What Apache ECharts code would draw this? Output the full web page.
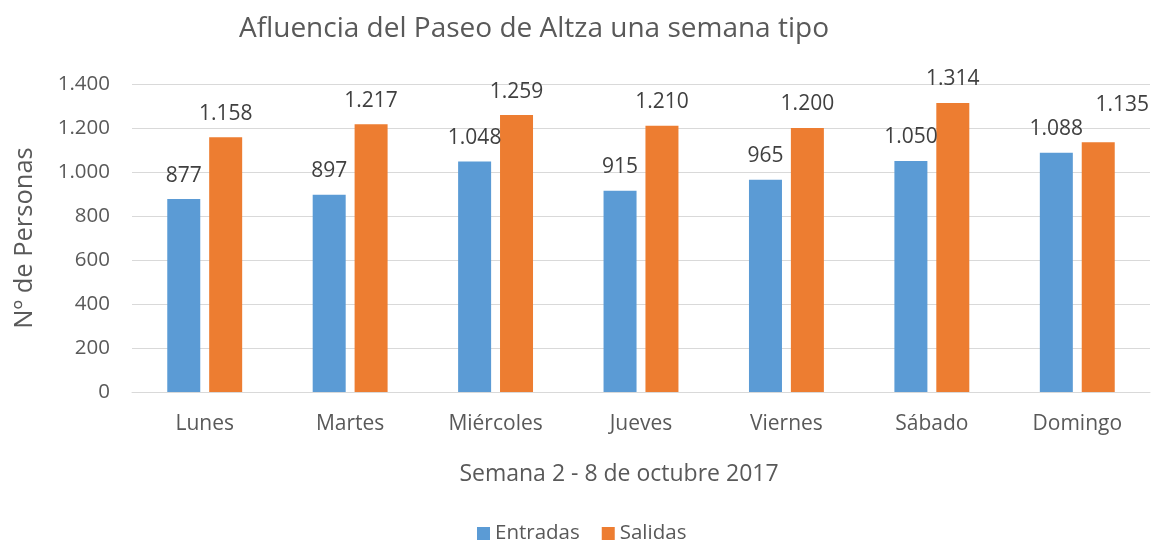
<!DOCTYPE html>
<html>
<head>
<meta charset="utf-8">
<script src="https://cdn.jsdelivr.net/npm/echarts@6/dist/echarts.min.js"></script>
<style>
  html, body { margin: 0; padding: 0; background: #fff; }
</style>
</head>
<body>
<div id="chart" style="width: 1152px; height: 540px"></div>
<script>
const dias = ["Lunes", "Martes", "Miércoles", "Jueves", "Viernes", "Sábado", "Domingo"];
const entradas = [877, 897, 1048, 915, 965, 1050, 1088];
const salidas = [1158, 1217, 1259, 1210, 1200, 1314, 1135];
const yTicks = [0, 200, 400, 600, 800, 1000, 1200, 1400];

const textColor = "#595959";
const fuente = "Open Sans";

// número con punto de miles
function fmt(v) {
  return String(v).replace(/\B(?=(\d{3})+(?!\d))/g, ".");
}

const etiqueta = {
  show: true,
  position: "top",
  distance: 13,
  color: "#404040",
  fontSize: 21,
  fontFamily: fuente,
  formatter: (p) => fmt(p.value),
};

const chart = echarts.init(document.getElementById("chart"));
chart.setOption({
  animation: false,
  textStyle: { fontFamily: fuente },
  title: {
    text: "Afluencia del Paseo de Altza una semana tipo",
    left: 529,
    top: 10,
    textAlign: "center",
    textStyle: { color: textColor, fontSize: 28, fontWeight: "normal", fontFamily: fuente },
  },
  legend: {
    data: ["Entradas", "Salidas"],
    top: 518,
    left: 472,
    itemWidth: 13,
    itemHeight: 13,
    itemGap: 22,
    icon: "rect",
    textStyle: { color: textColor, fontSize: 20.5, fontFamily: fuente },
  },
  grid: { left: 132, right: 2, top: 84, bottom: 148 },
  xAxis: {
    type: "category",
    data: dias,
    name: "Semana 2 - 8 de octubre 2017",
    nameLocation: "middle",
    nameGap: 71,
    nameTextStyle: { color: textColor, fontSize: 23, fontFamily: fuente, padding: [0, 44, 0, 0] },
    axisLine: { lineStyle: { color: "#d9d9d9", width: 1 } },
    axisTick: { show: false },
    axisLabel: { color: textColor, fontSize: 21, margin: 22, fontFamily: fuente },
  },
  yAxis: {
    type: "value",
    min: yTicks[0],
    max: yTicks[yTicks.length - 1],
    interval: 200,
    name: "Nº de Personas",
    nameLocation: "middle",
    nameGap: 94,
    nameTextStyle: { color: textColor, fontSize: 25.5, fontFamily: fuente },
    axisLine: { show: false },
    axisTick: { show: false },
    splitLine: { lineStyle: { color: "#d9d9d9", width: 1 } },
    axisLabel: { color: textColor, fontSize: 20.5, margin: 22, fontFamily: fuente, formatter: fmt },
  },
  series: [
    {
      name: "Entradas",
      type: "bar",
      data: entradas,
      barWidth: 33,
      barGap: "27%",
      itemStyle: { color: "#5B9BD5" },
      label: etiqueta,
    },
    {
      name: "Salidas",
      type: "bar",
      data: salidas.map((v, i) =>
        i === 6 ? { value: v, label: { offset: [24, -14] } } : v
      ),
      barWidth: 33,
      itemStyle: { color: "#ED7D31" },
      label: etiqueta,
    },
  ],
});
</script>
</body>
</html>
